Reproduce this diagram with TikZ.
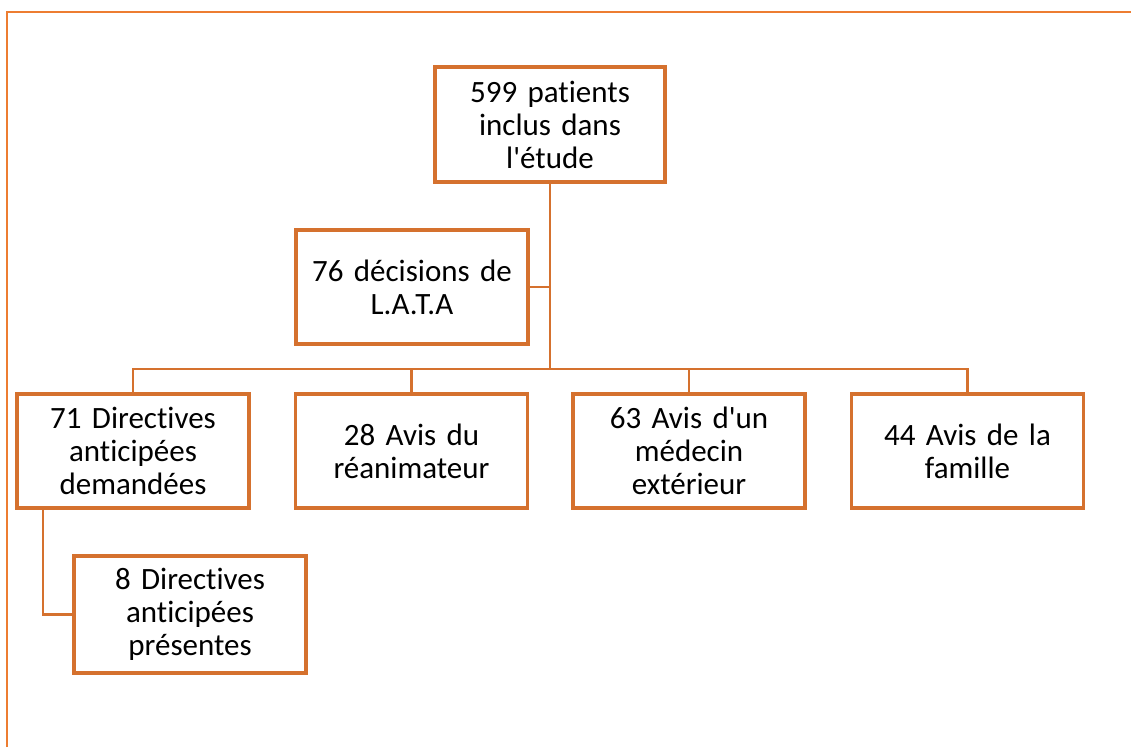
\documentclass[tikz,border=0pt]{standalone}
\usepackage{fontspec}
\setmainfont{Carlito}[Ligatures={NoCommon}]
\definecolor{boxor}{HTML}{D5712E}
\definecolor{frameor}{HTML}{ED7D31}
\begin{document}
\begin{tikzpicture}[x=1pt,y=1pt,
  box/.style={draw=boxor, line width=3.2pt, fill=white, rectangle,
    minimum width=232pt, minimum height=114pt, inner sep=0pt,
    align=center, text width=225pt,
    font=\fontsize{31}{33}\selectfont},
  conn/.style={draw=boxor, line width=2.6pt}]
\useasboundingbox (0,0) rectangle (1131,-747);
\draw[frameor, line width=2.6pt] (7,-747) -- (7,-12) -- (1131,-12);
\node[box, minimum width=230pt, minimum height=115pt] (top) at (550,-124.5) {599 patients\\inclus dans\\l\textquotesingle étude};
\node[box] (lata) at (412,-287) {76 décisions de\\L.A.T.A};
\node[box] (b1) at (133,-451) {71 Directives\\anticipées\\demandées};
\node[box] (b2) at (411.5,-451) {28 Avis du\\réanimateur};
\node[box] (b3) at (689,-451) {63 Avis d\textquotesingle un\\médecin\\extérieur};
\node[box] (b4) at (967.5,-451) {44 Avis de la\\famille};
\node[box, minimum height=117pt] (b5) at (190,-614.5) {8 Directives\\anticipées\\présentes};
\coordinate (bar) at (550,-369);
\coordinate (k) at (43,-508);
\draw[conn] (top.south) -- (bar);
\draw[conn] (lata.east) -- (lata.east -| bar);
\draw[conn] (b1.north) |- (bar) -| (b4.north);
\draw[conn] (b2.north) -- (b2.north |- bar);
\draw[conn] (b3.north) -- (b3.north |- bar);
\draw[conn] (k) |- (b5.west);
\end{tikzpicture}
\end{document}
